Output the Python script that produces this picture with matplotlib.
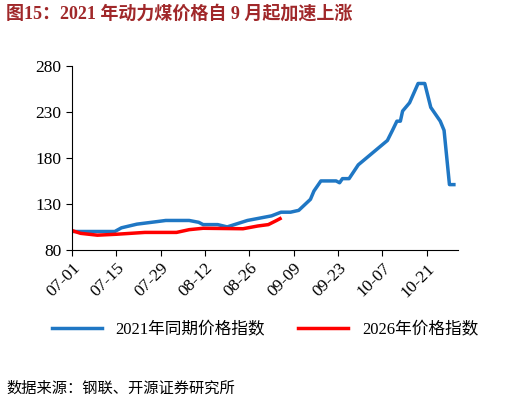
import matplotlib
matplotlib.use("Agg")
import matplotlib.pyplot as plt
import numpy as np

plt.rcParams['font.family'] = ['Liberation Serif', 'Noto Sans CJK SC', 'DejaVu Sans']

tick_labels = ["07-01","07-15","07-29","08-12","08-26","09-09","09-23","10-07","10-21"]
tick_days = [0,14,28,42,56,70,84,98,112]

blue_days = [0,6,13.5,15.6,20.5,27.4,29.6,37,40,41.4,46,49,55.4,63,66,69,71.6,75.3,76.4,78.6,83.4,84.5,85.4,87.5,90.4,99.6,101.2,102.6,103.7,104.4,106.6,109.3,111.4,113.3,116.3,117.5,119.2,120.6]
blue_vals = [100,100,100,104,108,111,112,112,110,107.5,107.5,105,112,117,121,121,123,135,144,155,155,153,157.5,157.5,172.5,199,210,220,220,231,240,261,261,235,220,210,151,151]
red_days = [0,2.7,8,14,23,33,37,41.4,54,58.7,62,64.6,65.7]
red_vals = [101,98,96,97,99,99,102,103.5,103,106,107.5,112,114]

fig = plt.figure(figsize=(5.22,4.05), dpi=100)
ax = fig.add_axes([0.138, 0.383, 0.74, 0.454])
ax.plot(blue_days, blue_vals, color='#1f77c4', lw=2.5, label='2021年同期价格指数')
ax.plot(red_days, red_vals, color='#ff0000', lw=2.5, label='2026年价格指数')
ax.set_ylim(80, 280)
ax.set_yticks([80,130,180,230,280])
ax.set_xlim(0, 122)
ax.set_xticks(tick_days)
ax.set_xticklabels(tick_labels, rotation=45, ha='right', rotation_mode='anchor')
ax.tick_params(labelsize=12.5, direction='out', length=4)
for s in ['top','right']:
    ax.spines[s].set_visible(False)
ax.legend(loc='upper center', bbox_to_anchor=(0.5, -0.31), ncol=2, frameon=False, fontsize=12, handlelength=3)

fig.text(0.012, 0.965, "图15：2021 年动力煤价格自 9 月起加速上涨", fontsize=13, fontweight='bold', color='#a0282a', va='center')
fig.text(0.012, 0.04, "数据来源：钢联、开源证券研究所", fontsize=11, color='black', va='center')
fig.savefig("out.png", dpi=100)
